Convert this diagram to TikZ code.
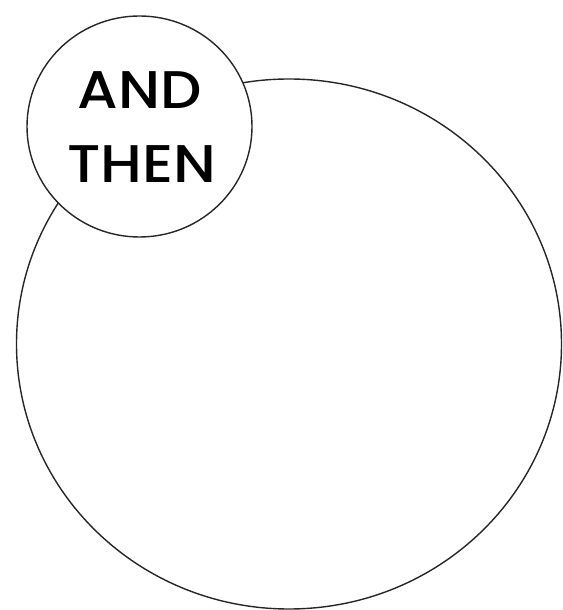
\documentclass[tikz,border=0pt]{standalone}
\usepackage{graphicx}
\usepackage{fontspec}
\newfontfamily\labelfont{Poppins}[UprightFont=* Medium]
\begin{document}
\begin{tikzpicture}[x=1pt,y=1pt,
  ring/.style={draw=black!85,line width=1.4pt},
  word/.style={font=\labelfont\fontsize{53}{53}\selectfont,anchor=base,inner sep=0pt}]
\useasboundingbox (0,0) rectangle (562,610);
\draw[ring] (289,266) ellipse [x radius=272.5, y radius=265];
\draw[ring,fill=white] (139.5,483.5) ellipse [x radius=112.5, y radius=110.5];
\node[word] (and) at (140,501) {\scalebox{1.1}[1]{AND}};
\node[word] (then) at (142,427) {\scalebox{1.12}[1]{THEN}};
\end{tikzpicture}
\end{document}
